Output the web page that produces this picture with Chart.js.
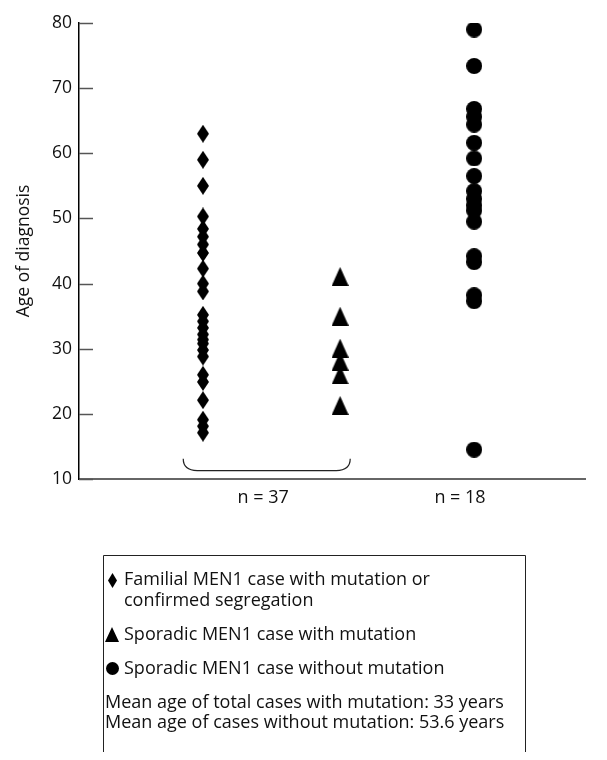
<!DOCTYPE html>
<html>
<head>
<meta charset="utf-8">
<style>
  html, body { margin: 0; padding: 0; background: #fff; }
</style>
<script src="https://cdn.jsdelivr.net/npm/chart.js@4.4.1/dist/chart.umd.min.js"></script>
</head>
<body>
<canvas id="ageChart" width="607" height="760"></canvas>
<script>
  // ages
  const ageTicks = [10, 20, 30, 40, 50, 60, 70, 80];
  const familialAges = [63, 59, 55, 50.3, 48.4, 47.2, 46, 44.7, 42.3, 40, 38.8, 35.2, 34.2, 33.2,
    32.2, 31.4, 30.8, 29.8, 28.8, 26, 24.9, 22.1, 19.1, 18.1, 17.1];
  const sporadicMutAges = [41.1, 35, 30.1, 28.1, 26, 21.3];
  const sporadicNoMutAges = [79, 73.4, 66.8, 65.6, 64.4, 61.6, 59.2, 56.5, 54.2, 53, 52, 51.2,
    49.5, 44.2, 43.3, 38.2, 37.3, 14.5];

  // where each group sits along the (unlabelled) x axis, 0..100
  const groupX = [24.5, 51.6, 78.1];
  const countLabels = ['n = 37', 'n = 18'];
  const countX = [36.4, 75.3];
  const bracketX = [20.6, 53.6];
  const bracketY = [11.3, 13.1];

  const legendLines = [
    'Familial MEN1 case with mutation or',
    'confirmed segregation',
    'Sporadic MEN1 case with mutation',
    'Sporadic MEN1 case without mutation',
    'Mean age of total cases with mutation: 33 years',
    'Mean age of cases without mutation: 53.6 years'
  ];

  const FONT = '"Open Sans", "Noto Sans", sans-serif';
  const INK = '#111';

  function makeMarker(w, h, shape) {
    const c = document.createElement('canvas');
    c.width = w; c.height = h;
    const g = c.getContext('2d');
    g.fillStyle = '#000';
    g.beginPath();
    if (shape === 'diamond') {
      g.moveTo(w / 2, 0); g.lineTo(w, h / 2); g.lineTo(w / 2, h); g.lineTo(0, h / 2);
    } else if (shape === 'triangle') {
      g.moveTo(w / 2, 0); g.lineTo(w, h); g.lineTo(0, h);
    } else {
      g.arc(w / 2, h / 2, w / 2, 0, Math.PI * 2);
    }
    g.closePath();
    g.fill();
    return c;
  }

  const diamond = makeMarker(12, 18, 'diamond');
  const triangle = makeMarker(17, 19, 'triangle');
  const dot = makeMarker(16, 16, 'circle');

  const toPoints = (x, arr) => arr.map(v => ({ x: x, y: v }));

  const extras = {
    id: 'extras',
    afterDraw(chart) {
      const ctx = chart.ctx;
      const xs = chart.scales.x, ys = chart.scales.y;
      const left = chart.chartArea.left;
      ctx.save();

      // inward tick marks on the y axis
      ctx.strokeStyle = '#555';
      ctx.lineWidth = 1.5;
      ageTicks.forEach(t => {
        const py = Math.round(ys.getPixelForValue(t)) + 0.5;
        ctx.beginPath();
        ctx.moveTo(left, py);
        ctx.lineTo(left + 14, py);
        ctx.stroke();
      });

      // bracket under the two mutation groups
      const bx0 = xs.getPixelForValue(bracketX[0]);
      const bx1 = xs.getPixelForValue(bracketX[1]);
      const byBottom = ys.getPixelForValue(bracketY[0]);
      const byTop = ys.getPixelForValue(bracketY[1]);
      ctx.strokeStyle = '#222';
      ctx.lineWidth = 1.2;
      ctx.beginPath();
      ctx.moveTo(bx0, byTop);
      ctx.quadraticCurveTo(bx0, byBottom, bx0 + 14, byBottom);
      ctx.lineTo(bx1 - 14, byBottom);
      ctx.quadraticCurveTo(bx1, byBottom, bx1, byTop);
      ctx.stroke();

      // legend box
      ctx.strokeStyle = '#222';
      ctx.lineWidth = 1;
      ctx.beginPath();
      ctx.moveTo(103.5, 752);
      ctx.lineTo(103.5, 555.5);
      ctx.lineTo(525.5, 555.5);
      ctx.lineTo(525.5, 752);
      ctx.stroke();

      ctx.drawImage(makeMarker(9, 15, 'diamond'), 108, 573);
      ctx.drawImage(makeMarker(14, 15, 'triangle'), 105, 627);
      ctx.drawImage(makeMarker(13, 13, 'circle'), 106, 662);

      ctx.fillStyle = INK;
      ctx.font = '18px ' + FONT;
      ctx.textBaseline = 'middle';
      ctx.textAlign = 'left';
      ctx.fillText(legendLines[0], 124, 580);
      ctx.fillText(legendLines[1], 124, 601);
      ctx.fillText(legendLines[2], 124, 635);
      ctx.fillText(legendLines[3], 124, 669);
      ctx.fillText(legendLines[4], 105, 703);
      ctx.fillText(legendLines[5], 105, 723);
      ctx.restore();
    }
  };

  new Chart(document.getElementById('ageChart'), {
    type: 'scatter',
    data: {
      datasets: [
        { data: toPoints(groupX[0], familialAges), pointStyle: diamond },
        { data: toPoints(groupX[1], sporadicMutAges), pointStyle: triangle },
        { data: toPoints(groupX[2], sporadicNoMutAges), pointStyle: dot }
      ]
    },
    options: {
      responsive: false,
      animation: false,
      layout: { padding: { top: 23, right: 22, bottom: 241, left: 0 } },
      elements: { point: { radius: 8, hoverRadius: 8, backgroundColor: '#000', borderWidth: 0 } },
      plugins: { legend: { display: false }, tooltip: { enabled: false } },
      scales: {
        x: {
          type: 'linear',
          min: 0,
          max: 100,
          afterFit: s => { s.height = 40; },
          afterBuildTicks: s => { s.ticks = countX.map(v => ({ value: v })); },
          ticks: {
            padding: 8,
            color: INK,
            font: { family: FONT, size: 18 },
            maxRotation: 0,
            autoSkip: false,
            callback: (v, i) => countLabels[i]
          },
          grid: { drawOnChartArea: false, drawTicks: false },
          border: { color: '#666', width: 2 }
        },
        y: {
          min: 10,
          max: 80,
          afterFit: s => { s.width = 79; },
          afterBuildTicks: s => { s.ticks = ageTicks.map(v => ({ value: v })); },
          ticks: {
            padding: 7,
            color: INK,
            font: { family: FONT, size: 17.5 }
          },
          grid: { drawOnChartArea: false, drawTicks: false },
          border: { color: '#000', width: 1.5 },
          title: {
            display: true,
            text: 'Age of diagnosis',
            color: INK,
            font: { family: FONT, size: 17.5 },
            padding: { top: 14, bottom: 0 }
          }
        }
      }
    },
    plugins: [extras]
  });
</script>
</body>
</html>
